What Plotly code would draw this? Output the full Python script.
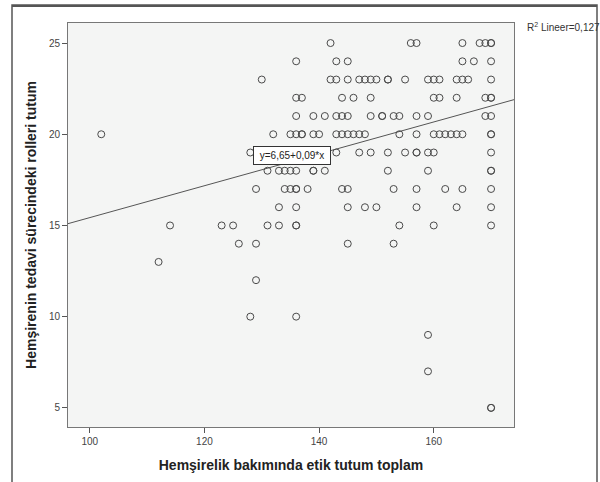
import plotly.graph_objects as go

# Points grouped by y level (x = Hemşirelik bakımında etik tutum toplam)
row_25 = [142, 156, 157, 165, 168, 169, 170, 170]
row_24 = [136, 143, 145, 165, 167, 170]
row_23 = [130, 142, 143, 145, 147, 148, 149, 150, 152, 152, 155, 159, 160, 161, 164, 165, 166, 170]
row_22 = [136, 137, 144, 146, 149, 160, 161, 164, 169, 170, 170]
row_21 = [136, 139, 141, 143, 144, 145, 149, 151, 151, 153, 154, 157, 159, 169, 170]
row_20 = [102, 132, 135, 136, 137, 137, 139, 140, 143, 144, 145, 146, 147, 148, 154, 157,
          160, 161, 162, 163, 164, 165, 170, 170]
row_19 = [128, 143, 147, 149, 152, 155, 157, 157, 159, 160, 170]
row_18 = [131, 133, 134, 135, 136, 139, 139, 141, 152, 159, 170, 170]
row_17 = [129, 134, 135, 136, 136, 138, 144, 145, 153, 157, 162, 165, 170]
row_16 = [133, 136, 145, 148, 150, 157, 164, 170]
row_15 = [114, 123, 125, 131, 133, 136, 136, 154, 160, 170]
row_14 = [126, 129, 145, 153]
row_13 = [112]
row_12 = [129]
row_10 = [128, 136]
row_9 = [159]
row_7 = [159]
row_5 = [170, 170]

rows = {25: row_25, 24: row_24, 23: row_23, 22: row_22, 21: row_21, 20: row_20,
        19: row_19, 18: row_18, 17: row_17, 16: row_16, 15: row_15, 14: row_14,
        13: row_13, 12: row_12, 10: row_10, 9: row_9, 7: row_7, 5: row_5}

x_score = []
y_score = []
for yv, xs in rows.items():
    for xv in xs:
        x_score.append(xv)
        y_score.append(yv)

# Linear fit (as drawn)
intercept = 6.69
slope = 0.0874
x_range = [96.2, 174.0]
y_range = [3.95, 26.1]
x_ticks = [100, 120, 140, 160]
y_ticks = [5, 10, 15, 20, 25]

fit_y = [intercept + slope * xv for xv in x_range]

W, H = 600, 482

fig = go.Figure()
fig.add_trace(go.Scatter(
    x=x_range, y=fit_y, mode="lines",
    line=dict(color="#555555", width=1), hoverinfo="skip", showlegend=False))
fig.add_trace(go.Scatter(
    x=x_score, y=y_score, mode="markers",
    marker=dict(symbol="circle-open", size=7, color="#4a4a4a", line=dict(width=1, color="#4a4a4a")),
    showlegend=False))

fig.add_annotation(
    x=135.2, y=18.85, xref="x", yref="y", text="y=6,65+0,09*x", showarrow=False,
    font=dict(family="Liberation Sans Narrow, Liberation Sans, Arial", size=10, color="#222222"),
    width=70, height=11, bgcolor="white", bordercolor="#333333", borderwidth=1, borderpad=3)

fig.add_annotation(
    x=525 / W, y=(H - 27) / H, xref="paper", yref="paper", xanchor="left", yanchor="middle",
    text="R<sup>2</sup> Lineer=0,127", showarrow=False,
    font=dict(family="Liberation Sans Narrow, Liberation Sans, Arial", size=10, color="#333333"))

# outer frame
fig.add_shape(type="rect", xref="paper", yref="paper",
              x0=12 / W, x1=597 / W, y0=-0.05, y1=(H - 5) / H,
              line=dict(color="#555555", width=1.5), layer="above")
fig.add_shape(type="line", xref="paper", yref="paper",
              x0=12 / W, x1=597 / W, y0=(H - 6) / H, y1=(H - 6) / H,
              line=dict(color="#555555", width=2), layer="below")

fig.update_layout(
    width=W, height=H,
    margin=dict(l=0, r=0, t=0, b=0),
    paper_bgcolor="white", plot_bgcolor="#f4f5f4",
    font=dict(family="Liberation Sans, Arial", color="#444444"),
    xaxis=dict(domain=[68 / W, 514 / W], range=x_range, tickvals=x_ticks, ticks="outside", ticklen=5,
               tickcolor="#555555", showgrid=False, zeroline=False, showline=True,
               linecolor="#777777", linewidth=1, mirror=True, automargin=False,
               tickfont=dict(size=10, color="#444444"),
               title=dict(text="<b>Hemşirelik bakımında etik tutum toplam</b>",
                          font=dict(size=14, color="#222222"), standoff=14)),
    yaxis=dict(domain=[(H - 427) / H, (H - 23) / H], range=y_range, tickvals=y_ticks, ticks="outside",
               ticklen=5, tickcolor="#555555", showgrid=False, zeroline=False, showline=True,
               linecolor="#777777", linewidth=1, mirror=True, automargin=False,
               tickfont=dict(size=10, color="#444444"),
               title=dict(text="<b>Hemşirenin tedavi sürecindeki rolleri tutum</b>",
                          font=dict(size=14, color="#222222"), standoff=8)),
)

fig.write_html("out.html", config={"displayModeBar": False},
               post_script="document.body.style.margin='0';document.body.style.overflow='hidden';")
